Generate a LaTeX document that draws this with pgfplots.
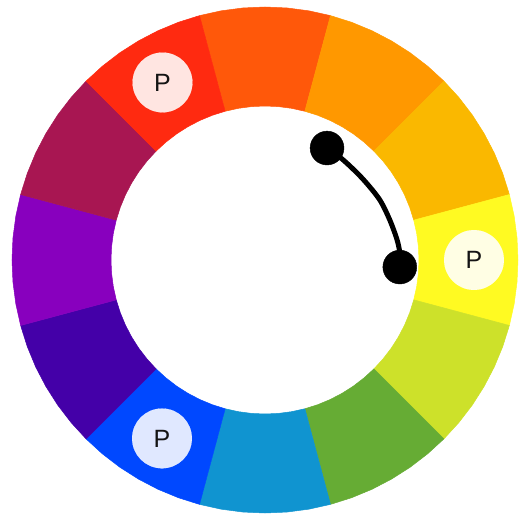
\documentclass[border=0pt]{standalone}
\usepackage{fontspec}
\setmainfont{Liberation Sans}
\usepackage{pgfplots}
\pgfplotsset{compat=1.18}
\usepgfplotslibrary{polar}
\definecolor{cA}{RGB}{255,88,10}   % 90
\definecolor{cB}{RGB}{255,152,0}   % 60
\definecolor{cC}{RGB}{250,184,0}   % 30
\definecolor{cD}{RGB}{255,250,34}  % 0
\definecolor{cE}{RGB}{205,225,42}  % -30
\definecolor{cF}{RGB}{102,172,52}  % -60
\definecolor{cG}{RGB}{16,148,208}  % -90
\definecolor{cH}{RGB}{0,72,255}    % -120
\definecolor{cI}{RGB}{68,0,168}    % -150
\definecolor{cJ}{RGB}{136,0,190}   % 180
\definecolor{cK}{RGB}{168,22,82}   % 150
\definecolor{cL}{RGB}{255,42,16}   % 120
\begin{document}
\begin{tikzpicture}
\path[use as bounding box] (-265bp,-263bp) rectangle (254bp,260bp);
\begin{polaraxis}[
  anchor=origin, at={(0,0)},
  scale only axis, width=506bp, height=506bp,
  ymin=0, ymax=253, hide axis, clip=false,
  every axis plot/.append style={line join=round},
]
% ring segments (angle, radius)
\addplot[fill=cA, draw=cA, line width=0.5pt] coordinates {(75,253) (80,253) (85,253) (90,253) (95,253) (100,253) (105,253) (105,154) (100,154) (95,154) (90,154) (85,154) (80,154) (75,154) (75,253)};
\addplot[fill=cB, draw=cB, line width=0.5pt] coordinates {(45,253) (50,253) (55,253) (60,253) (65,253) (70,253) (75,253) (75,154) (70,154) (65,154) (60,154) (55,154) (50,154) (45,154) (45,253)};
\addplot[fill=cC, draw=cC, line width=0.5pt] coordinates {(15,253) (20,253) (25,253) (30,253) (35,253) (40,253) (45,253) (45,154) (40,154) (35,154) (30,154) (25,154) (20,154) (15,154) (15,253)};
\addplot[fill=cD, draw=cD, line width=0.5pt] coordinates {(-15,253) (-10,253) (-5,253) (0,253) (5,253) (10,253) (15,253) (15,154) (10,154) (5,154) (0,154) (-5,154) (-10,154) (-15,154) (-15,253)};
\addplot[fill=cE, draw=cE, line width=0.5pt] coordinates {(-45,253) (-40,253) (-35,253) (-30,253) (-25,253) (-20,253) (-15,253) (-15,154) (-20,154) (-25,154) (-30,154) (-35,154) (-40,154) (-45,154) (-45,253)};
\addplot[fill=cF, draw=cF, line width=0.5pt] coordinates {(-75,253) (-70,253) (-65,253) (-60,253) (-55,253) (-50,253) (-45,253) (-45,154) (-50,154) (-55,154) (-60,154) (-65,154) (-70,154) (-75,154) (-75,253)};
\addplot[fill=cG, draw=cG, line width=0.5pt] coordinates {(-105,253) (-100,253) (-95,253) (-90,253) (-85,253) (-80,253) (-75,253) (-75,154) (-80,154) (-85,154) (-90,154) (-95,154) (-100,154) (-105,154) (-105,253)};
\addplot[fill=cH, draw=cH, line width=0.5pt] coordinates {(-135,253) (-130,253) (-125,253) (-120,253) (-115,253) (-110,253) (-105,253) (-105,154) (-110,154) (-115,154) (-120,154) (-125,154) (-130,154) (-135,154) (-135,253)};
\addplot[fill=cI, draw=cI, line width=0.5pt] coordinates {(-165,253) (-160,253) (-155,253) (-150,253) (-145,253) (-140,253) (-135,253) (-135,154) (-140,154) (-145,154) (-150,154) (-155,154) (-160,154) (-165,154) (-165,253)};
\addplot[fill=cJ, draw=cJ, line width=0.5pt] coordinates {(165,253) (170,253) (175,253) (180,253) (185,253) (190,253) (195,253) (195,154) (190,154) (185,154) (180,154) (175,154) (170,154) (165,154) (165,253)};
\addplot[fill=cK, draw=cK, line width=0.5pt] coordinates {(135,253) (140,253) (145,253) (150,253) (155,253) (160,253) (165,253) (165,154) (160,154) (155,154) (150,154) (145,154) (140,154) (135,154) (135,253)};
\addplot[fill=cL, draw=cL, line width=0.5pt] coordinates {(105,253) (110,253) (115,253) (120,253) (125,253) (130,253) (135,253) (135,154) (130,154) (125,154) (120,154) (115,154) (110,154) (105,154) (105,253)};
% connecting curve
\addplot[black, line width=5bp, smooth] coordinates {(61,128) (52,127) (40,127) (28,129.5) (18,131) (9,133.5) (3,135) (-3,135)};
% black dots
\addplot[black, only marks, mark=*, mark size=17, mark options={fill=black, draw=black}] coordinates {(61,128) (-3,135)};
% P markers
\addplot[white, only marks, mark=*, mark size=30, mark options={fill=white, draw=white, line width=0.1pt, opacity=0.88},
  nodes near coords={P}, nodes near coords align={center},
  every node near coord/.append style={font=\fontsize{25bp}{25bp}\selectfont, text=black!92, anchor=center, opacity=1, text opacity=1}]
  coordinates {(120,205) (0,209) (-120,206)};
\end{polaraxis}
\end{tikzpicture}
\end{document}
